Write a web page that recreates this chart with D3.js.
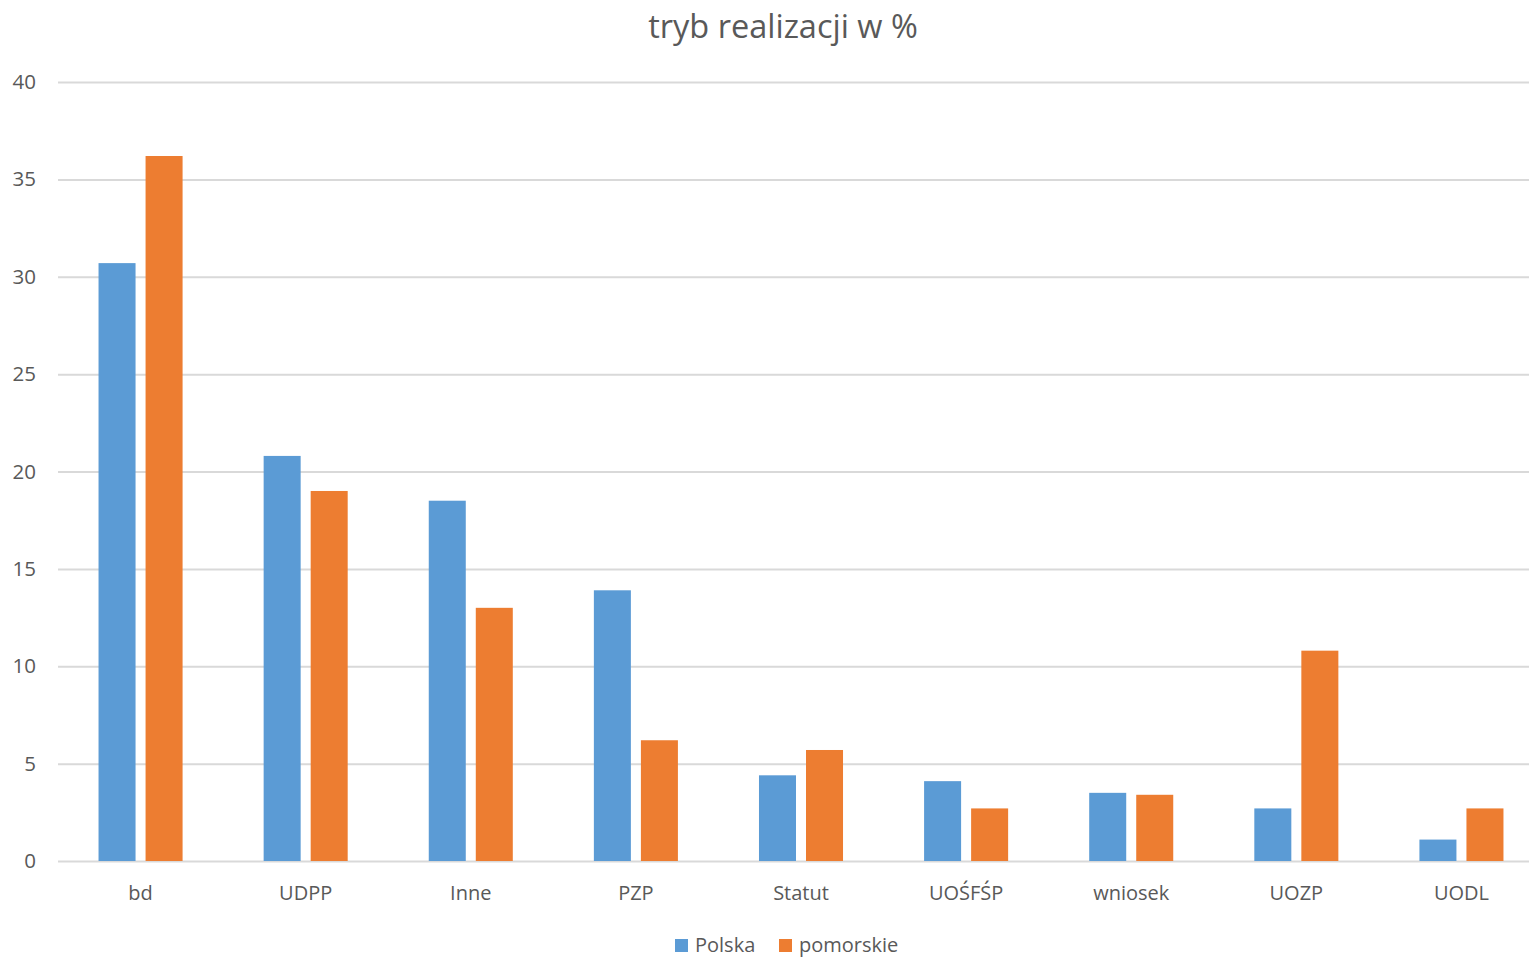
<!DOCTYPE html>
<html>
<head>
<meta charset="utf-8">
<script src="https://cdn.jsdelivr.net/npm/d3@7"></script>
<style>
  html, body { margin: 0; padding: 0; background: #fff; }
  svg { display: block; font-family: "Open Sans", "Noto Sans", sans-serif; }
</style>
</head>
<body>
<svg id="chart" width="1529" height="958"></svg>
<script>
// Category labels along the x axis
const categories = ["bd", "UDPP", "Inne", "PZP", "Statut", "UOŚFŚP", "wniosek", "UOZP", "UODL"];
// Series names and values (percent)
const seriesNames = ["Polska", "pomorskie"];
const polskaValues = [30.7, 20.8, 18.5, 13.9, 4.4, 4.1, 3.5, 2.7, 1.1];
const pomorskieValues = [36.2, 19.0, 13.0, 6.2, 5.7, 2.7, 3.4, 10.8, 2.7];
// Y axis ticks
const yTicks = [0, 5, 10, 15, 20, 25, 30, 35, 40];
const chartTitle = "tryb realizacji w %";

const colors = { "Polska": "#5b9bd5", "pomorskie": "#ed7d31" };
const textColor = "#595959";
const fontFamily = '"Open Sans", "Noto Sans", sans-serif';

const svg = d3.select("#chart");
const W = 1529, H = 958;
const plotLeft = 58, plotRight = 1544, plotTop = 82, plotBottom = 861;

const y = d3.scaleLinear()
  .domain([0, 40])
  .range([plotBottom, plotTop]);

const x0 = d3.scaleBand()
  .domain(categories)
  .range([plotLeft, plotRight])
  .paddingInner(0.491)
  .paddingOuter(0.2455);

const x1 = d3.scaleBand()
  .domain(seriesNames)
  .range([0, x0.bandwidth()])
  .paddingInner(0.213);

// Title
svg.append("text")
  .attr("x", 783)
  .attr("y", 38)
  .attr("text-anchor", "middle")
  .attr("fill", textColor)
  .style("font-size", "32.5px")
  .text(chartTitle);

// Horizontal gridlines with tick labels
const yAxis = d3.axisLeft(y)
  .tickValues(yTicks)
  .tickSize(-(W - plotLeft))
  .tickPadding(22);

const gy = svg.append("g")
  .attr("transform", `translate(${plotLeft},0)`)
  .call(yAxis)
  .attr("font-family", fontFamily);
gy.select(".domain").remove();
gy.selectAll(".tick line").attr("stroke", "#d9d9d9").attr("stroke-width", 2);
gy.selectAll(".tick text")
  .attr("fill", textColor)
  .style("font-size", "20.5px");

// Bars
const rows = categories.map((c, i) => ({
  category: c,
  values: [
    { name: "Polska", value: polskaValues[i] },
    { name: "pomorskie", value: pomorskieValues[i] }
  ]
}));

const groups = svg.append("g")
  .selectAll("g")
  .data(rows)
  .join("g")
  .attr("transform", d => `translate(${x0(d.category)},0)`);

groups.selectAll("rect")
  .data(d => d.values)
  .join("rect")
  .attr("x", d => x1(d.name))
  .attr("width", x1.bandwidth())
  .attr("y", d => y(d.value))
  .attr("height", d => y(0) - y(d.value))
  .attr("fill", d => colors[d.name]);

// Category labels
const xAxis = d3.axisBottom(x0).tickSize(0).tickPadding(25);
const gx = svg.append("g")
  .attr("transform", `translate(0,${y(0)})`)
  .call(xAxis)
  .attr("font-family", fontFamily);
gx.select(".domain").remove();
gx.selectAll(".tick text")
  .attr("fill", textColor)
  .style("font-size", "20px");

// Legend
const legendItems = [
  { name: "Polska", x: 675 },
  { name: "pomorskie", x: 779 }
];
const legend = svg.append("g");
legendItems.forEach(item => {
  legend.append("rect")
    .attr("x", item.x)
    .attr("y", 939)
    .attr("width", 13)
    .attr("height", 13)
    .attr("fill", colors[item.name]);
  legend.append("text")
    .attr("x", item.x + 20)
    .attr("y", 952)
    .attr("fill", textColor)
    .style("font-size", "20px")
    .text(item.name);
});
</script>
</body>
</html>
